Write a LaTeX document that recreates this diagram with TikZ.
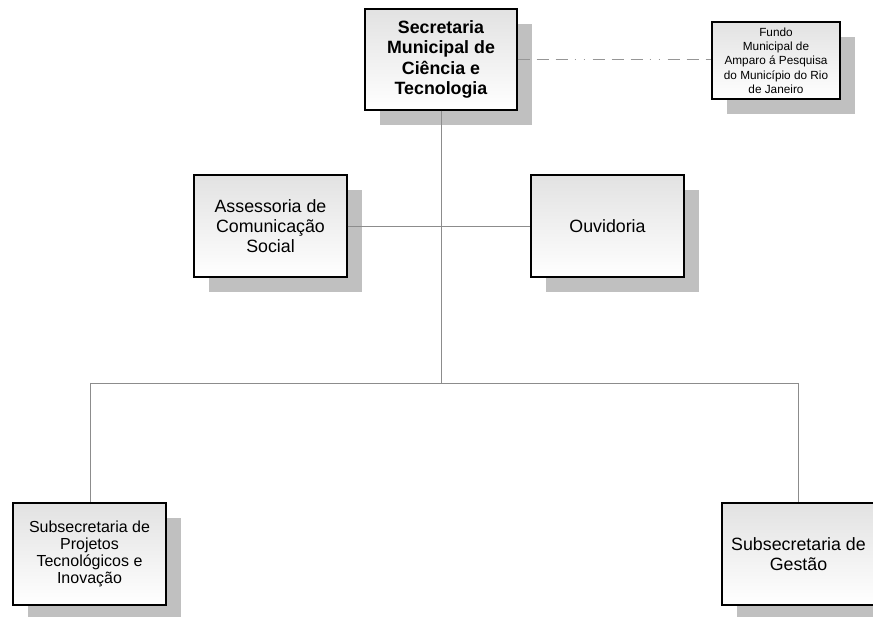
\documentclass[tikz,border=0pt]{standalone}
\usepackage{fontspec}
\setmainfont{Liberation Sans}
\usetikzlibrary{shadows}
\definecolor{shadowc}{RGB}{192,192,192}
\definecolor{topc}{RGB}{226,226,226}
\definecolor{linec}{RGB}{140,140,140}
\definecolor{dashc}{RGB}{150,150,150}
\tikzset{
  orgbox/.style={draw=black, line width=1.1pt, top color=topc, bottom color=white,
    align=center, inner sep=2pt,
    drop shadow={shadow xshift=15pt, shadow yshift=-15pt, fill=shadowc, opacity=1}},
  conn/.style={draw=linec, line width=0.8pt},
  dashconn/.style={draw=dashc, line width=0.9pt,
    dash pattern=on 12pt off 7pt on 12pt off 7pt on 12pt off 7pt on 1.5pt off 7.5pt on 1.5pt off 7.5pt},
}
\begin{document}
\begin{tikzpicture}[x=1pt,y=-1pt]
\useasboundingbox (0,0) rectangle (873,617);
\clip (0,0) rectangle (873,617);
\node[orgbox, line width=1.4pt, minimum width=152pt, minimum height=101pt,
  font=\fontsize{17.8}{20.5}\selectfont\bfseries] (sec) at (441,59.5)
  {Secretaria\\Municipal de\\Ciência e\\Tecnologia};
\node[orgbox, minimum width=128pt, minimum height=77pt,
  font=\fontsize{11.8}{14.3}\selectfont] (fundo) at (776,60.5)
  {Fundo\\Municipal de\\Amparo á Pesquisa\\do Município do Rio\\de Janeiro};
\node[orgbox, minimum width=153pt, minimum height=102pt,
  font=\fontsize{17.8}{19.8}\selectfont] (asc) at (270.5,226)
  {Assessoria de\\Comunicação\\Social};
\node[orgbox, minimum width=153pt, minimum height=102pt,
  font=\fontsize{17.8}{19.8}\selectfont] (ouv) at (607.5,226)
  {Ouvidoria};
\node[orgbox, minimum width=153pt, minimum height=102pt,
  font=\fontsize{16}{16.8}\selectfont] (spti) at (89.5,554)
  {Subsecretaria de\\Projetos\\Tecnológicos e\\Inovação};
\node[orgbox, minimum width=153pt, minimum height=102pt,
  font=\fontsize{17.8}{20}\selectfont] (sg) at (798.5,554)
  {Subsecretaria de\\Gestão};
\coordinate (hub) at (441,383);
\coordinate (hl) at (90,383);
\coordinate (hr) at (798,383);
\draw[conn] (sec.south) -- (hub);
\draw[conn] (asc.east) -- (ouv.west);
\draw[conn] (hl) -- (hr);
\draw[conn] (hl) -- (hl |- spti.north);
\draw[conn] (hr) -- (hr |- sg.north);
\draw[dashconn] (sec.east |- 0,59.5) -- (fundo.west |- 0,59.5);
\end{tikzpicture}
\end{document}
